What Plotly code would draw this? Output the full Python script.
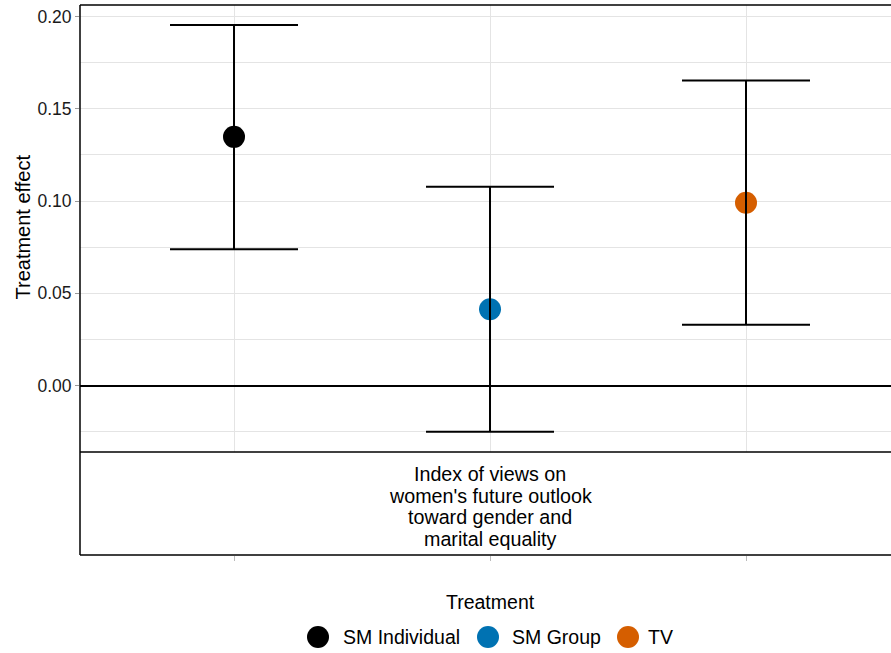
import plotly.graph_objects as go

# ---- data -------------------------------------------------------------
treatments = ["SM Individual", "SM Group", "TV"]
point_colors = ["#000000", "#0072B2", "#D55E00"]
estimates = [0.1348, 0.0413, 0.0991]
ci_low = [0.0739, -0.0251, 0.0330]
ci_high = [0.1955, 0.1078, 0.1653]

outcome_lines = ["Index of views on", "women's future outlook",
                 "toward gender and", "marital equality"]

y_tick_vals = [0.00, 0.05, 0.10, 0.15, 0.20]
y_tick_text = ["0.00", "0.05", "0.10", "0.15", "0.20"]

# ---- layout constants -------------------------------------------------
W, H = 891, 653
ML, MT, MB = 80, 5, 98            # plot area spans x 80..891, y 5..555
PW, PH = W - ML, H - MT - MB
FONT = "Liberation Sans, Arial, sans-serif"
GRID = "#E4E4E4"

Y_RANGE = [-0.0919, 0.2063]
STRIP_TOP = -0.0361               # panel / strip boundary
X_RANGE = [-1.6016, 1.5664]


def paper_x(px):
    return (px - ML) / PW


def paper_y(py):
    return (MT + PH - py) / PH


# dodged positions of the three treatments around the single outcome
x_pos = [i - (len(treatments) - 1) / 2 for i in range(len(treatments))]
err_plus = [h - e for h, e in zip(ci_high, estimates)]
err_minus = [e - l for e, l in zip(estimates, ci_low)]

fig = go.Figure()

for x, y, name, col in zip(x_pos, estimates, treatments, point_colors):
    fig.add_trace(go.Scatter(
        x=[x], y=[y], mode="markers", name=name,
        marker=dict(size=22, color=col, line=dict(width=0)),
        showlegend=False, hoverinfo="name+y",
    ))

# confidence intervals drawn over the points
fig.add_trace(go.Scatter(
    x=x_pos, y=estimates, mode="markers",
    marker=dict(size=1, opacity=0),
    error_y=dict(type="data", symmetric=False, array=err_plus,
                 arrayminus=err_minus, color="#000000",
                 thickness=2, width=64),
    showlegend=False, hoverinfo="skip",
))

shapes = [
    # facet strip below the panel
    dict(type="rect", xref="paper", yref="y", x0=0, x1=1,
         y0=Y_RANGE[0], y1=STRIP_TOP, fillcolor="white",
         line=dict(width=0), layer="above"),
    dict(type="line", xref="paper", yref="y", x0=0, x1=1,
         y0=STRIP_TOP, y1=STRIP_TOP, line=dict(color="black", width=1.5),
         layer="above"),
    dict(type="line", xref="paper", yref="paper", x0=0, x1=1,
         y0=0, y1=0, line=dict(color="black", width=1.5), layer="above"),
    # panel frame (top and left)
    dict(type="line", xref="paper", yref="paper", x0=0, x1=1,
         y0=1, y1=1, line=dict(color="black", width=1.5), layer="above"),
    dict(type="line", xref="paper", yref="paper", x0=0, x1=0,
         y0=0, y1=1, line=dict(color="black", width=1.5), layer="above"),
]

annotations = []
# strip text, one line at a time for tight line spacing
strip_baselines = [480.5, 502.2, 523.9, 545.6]
for line, base in zip(outcome_lines, strip_baselines):
    annotations.append(dict(
        text=line, x=0, xref="x", y=paper_y(base - 6.5), yref="paper",
        xanchor="center", yanchor="middle", showarrow=False,
        font=dict(family=FONT, size=19.7, color="black"),
    ))

# y-axis title
annotations.append(dict(
    text="Treatment effect", x=paper_x(22), xref="paper",
    y=paper_y(227.5), yref="paper", textangle=-90,
    xanchor="center", yanchor="middle", showarrow=False,
    font=dict(family=FONT, size=20, color="black"),
))

# legend
annotations.append(dict(
    text="Treatment", x=paper_x(490), xref="paper", y=paper_y(602),
    yref="paper", xanchor="center", yanchor="middle", showarrow=False,
    font=dict(family=FONT, size=19.5, color="black"),
))
legend_dot_x = [318, 488, 628]
legend_text_x = [343, 512, 648]
legend_y = 637
for name, col, dx, tx in zip(treatments, point_colors, legend_dot_x, legend_text_x):
    shapes.append(dict(
        type="circle", xref="paper", yref="paper",
        xsizemode="pixel", ysizemode="pixel",
        xanchor=paper_x(dx), yanchor=paper_y(legend_y),
        x0=-11, x1=11, y0=-11, y1=11,
        fillcolor=col, line=dict(width=0), layer="above",
    ))
    annotations.append(dict(
        text=name, x=paper_x(tx - 2), xref="paper", y=paper_y(legend_y),
        yref="paper", xanchor="left", yanchor="middle", showarrow=False,
        font=dict(family=FONT, size=19.5, color="black"),
    ))

fig.update_layout(
    width=W, height=H,
    margin=dict(l=ML, r=0, t=MT, b=MB, pad=0),
    paper_bgcolor="white", plot_bgcolor="white",
    font=dict(family=FONT, color="black"),
    showlegend=False,
    shapes=shapes, annotations=annotations,
    xaxis=dict(
        range=X_RANGE, tickvals=x_pos, showticklabels=False,
        ticks="outside", ticklen=5, tickwidth=1, tickcolor="#BBBBBB",
        showgrid=True, gridcolor=GRID, gridwidth=1,
        zeroline=False, showline=False, fixedrange=True,
    ),
    yaxis=dict(
        range=Y_RANGE, tickvals=y_tick_vals, ticktext=y_tick_text,
        ticks="outside", ticklen=4, tickwidth=1, tickcolor="#999999",
        tickfont=dict(family=FONT, size=17.5, color="#1A1A1A"),
        showgrid=True, gridcolor=GRID, gridwidth=1,
        minor=dict(dtick=0.025, tick0=0, showgrid=True,
                   gridcolor=GRID, gridwidth=1, ticks=""),
        zeroline=True, zerolinecolor="black", zerolinewidth=2,
        showline=False, fixedrange=True,
    ),
)

fig.write_html("out.html")
